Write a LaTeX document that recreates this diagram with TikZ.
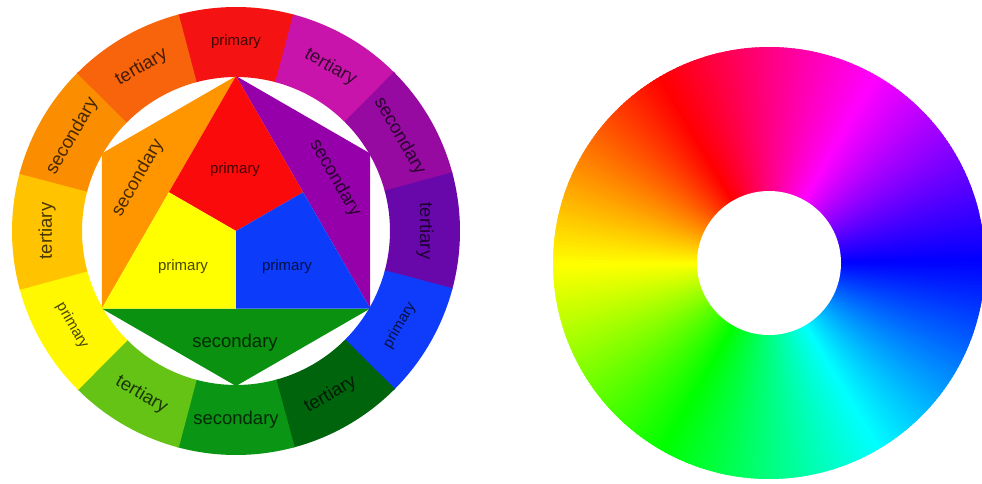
\documentclass[tikz,border=0pt]{standalone}
\usepackage{fontspec}
\setmainfont{Liberation Sans}
\usetikzlibrary{calc}
\definecolor{rRed}{RGB}{245,18,18}
\definecolor{rRedOr}{RGB}{248,100,12}
\definecolor{rOrange}{RGB}{250,142,0}
\definecolor{rYelOr}{RGB}{255,195,0}
\definecolor{rYellow}{RGB}{255,248,0}
\definecolor{rLtGreen}{RGB}{100,195,20}
\definecolor{rGreen}{RGB}{10,150,20}
\definecolor{rDkGreen}{RGB}{0,100,12}
\definecolor{rBlue}{RGB}{15,60,250}
\definecolor{rDkPurple}{RGB}{104,8,170}
\definecolor{rPurple}{RGB}{150,10,162}
\definecolor{rMagenta}{RGB}{200,20,170}
\definecolor{iRed}{RGB}{250,10,10}
\definecolor{iYellow}{RGB}{255,255,0}
\definecolor{iBlue}{RGB}{12,60,250}
\definecolor{iOrange}{RGB}{255,150,0}
\definecolor{iPurple}{RGB}{150,0,170}
\definecolor{iGreen}{RGB}{10,145,15}
\tikzset{
  lbl/.style={text=black, text opacity=0.72, inner sep=0pt},
  psize/.style={font=\fontsize{15}{18}\selectfont},
  ssize/.style={font=\fontsize{18.5}{22}\selectfont}
}
\begin{document}
\begin{tikzpicture}[x=1pt,y=1pt]
\clip (0,0) rectangle (982,483);
\fill[white] (0,0) rectangle (982,483);
% ---------------- left wheel ----------------
\coordinate (L) at (236,252);
\foreach \a/\c/\t/\s in {90/rRed/primary/psize, 60/rMagenta/tertiary/ssize,
  30/rPurple/secondary/ssize, 0/rDkPurple/tertiary/ssize,
  330/rBlue/primary/psize, 300/rDkGreen/tertiary/ssize,
  270/rGreen/secondary/ssize, 240/rLtGreen/tertiary/ssize,
  210/rYellow/primary/psize, 180/rYelOr/tertiary/ssize,
  150/rOrange/secondary/ssize, 120/rRedOr/tertiary/ssize}{
  \fill[\c] ([shift={(\a-15.2:224)}]L) arc[start angle=\a-15.2, end angle=\a+15.2, radius=224]
     -- ([shift={(\a+15.2:154)}]L) arc[start angle=\a+15.2, end angle=\a-15.2, radius=154] -- cycle;
}
\foreach \a/\t/\s in {90/primary/psize, 60/tertiary/ssize,
  30/secondary/ssize, 0/tertiary/ssize,
  330/primary/psize, 300/tertiary/ssize,
  270/secondary/ssize, 240/tertiary/ssize,
  210/primary/psize, 180/tertiary/ssize,
  150/secondary/ssize, 120/tertiary/ssize}{
  \pgfmathsetmacro\rot{\a<=180 ? \a-90 : \a-270}
  \node[lbl, \s, rotate=\rot] (ring\a) at ([shift={(\a:189)}]L) {\t};
}
% hexagon vertices
\foreach \a in {30,90,150,210,270,330}{
  \coordinate (H\a) at ([shift={(\a:155)}]L);
}
\coordinate (mTA) at ($(H90)!0.5!(H210)$);
\coordinate (mAB) at ($(H210)!0.5!(H330)$);
\coordinate (mTB) at ($(H90)!0.5!(H330)$);
\fill[iOrange] (H90) -- (H150) -- (H210) -- cycle;
\fill[iPurple] (H90) -- (H30) -- (H330) -- cycle;
\fill[iGreen] (H210) -- (H270) -- (H330) -- cycle;
\fill[iRed] (H90) -- (mTA) -- (L) -- (mTB) -- cycle;
\fill[iYellow] (mTA) -- (H210) -- (mAB) -- (L) -- cycle;
\fill[iBlue] (L) -- (mAB) -- (H330) -- (mTB) -- cycle;
\node[lbl, psize] (pRed) at (235,313) {primary};
\node[lbl, psize] (pYellow) at (183,216) {primary};
\node[lbl, psize] (pBlue) at (287,216) {primary};
\node[lbl, ssize, rotate=60] (sOrange) at (138,305) {secondary};
\node[lbl, ssize, rotate=-60] (sPurple) at (335,305) {secondary};
\node[lbl, ssize] (sGreen) at (235,140) {secondary};
% ---------------- right hue wheel ----------------
\coordinate (R) at (769,220);
\foreach \a in {0,...,359}{
  \pgfmathsetmacro\h{mod(\a+240,360)/360}
  \definecolor{wc}{hsb}{\h,1,1}
  \fill[wc] (R) -- ([shift={(\a:216)}]R) arc[start angle=\a, end angle=\a+1.6, radius=216] -- cycle;
}
\fill[white] (R) circle[radius=72];
\end{tikzpicture}
\end{document}
